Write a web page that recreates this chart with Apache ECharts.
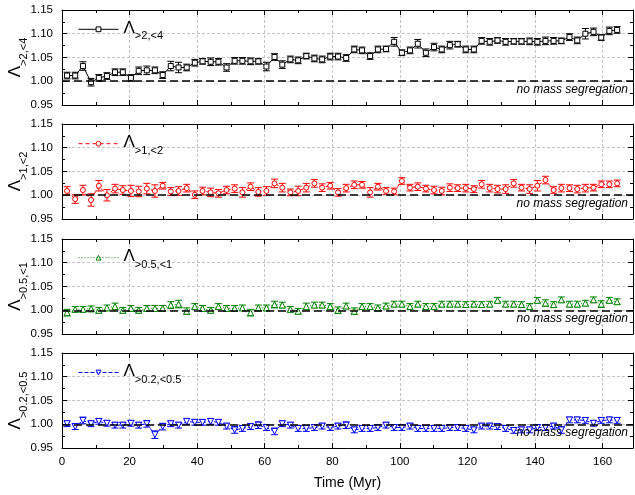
<!DOCTYPE html>
<html><head><meta charset="utf-8">
<script src="https://cdn.jsdelivr.net/npm/echarts@6/dist/echarts.min.js"></script>
<style>html,body{margin:0;padding:0;background:#fff}#c{width:635px;height:495px}</style>
</head><body><div id="c"></div><script>
const FONT = "'Liberation Sans', Arial, sans-serif";

const times = [1.5,3.9,6.2,8.6,10.9,13.3,15.7,18.0,20.4,22.7,
25.1,27.5,29.8,32.2,34.5,36.9,39.3,41.6,44.0,46.3,
48.7,51.1,53.4,55.8,58.1,60.5,62.9,65.2,67.6,69.9,
72.3,74.7,77.0,79.4,81.7,84.1,86.5,88.8,91.2,93.5,
95.9,98.3,100.6,103.0,105.3,107.7,110.1,112.4,114.8,117.1,
119.5,121.9,124.2,126.6,128.9,131.3,133.7,136.0,138.4,140.7,
143.1,145.5,147.8,150.2,152.5,154.9,157.3,159.6,162.0,164.3];

const lam24 = [1.012,1.012,1.032,0.998,1.007,1.011,1.019,1.019,1.007,1.022,
1.023,1.023,1.013,1.032,1.029,1.029,1.039,1.042,1.041,1.041,
1.029,1.043,1.043,1.042,1.042,1.031,1.051,1.035,1.046,1.044,
1.053,1.048,1.046,1.052,1.052,1.049,1.067,1.065,1.053,1.067,
1.068,1.083,1.060,1.065,1.079,1.060,1.072,1.067,1.076,1.078,
1.067,1.067,1.085,1.083,1.086,1.083,1.084,1.084,1.084,1.083,
1.085,1.085,1.085,1.093,1.086,1.100,1.104,1.092,1.106,1.108];
const err24 = [0.007,0.007,0.009,0.008,0.007,0.007,0.007,0.007,0.007,0.008,
0.009,0.007,0.007,0.010,0.011,0.007,0.007,0.006,0.008,0.007,
0.008,0.007,0.007,0.007,0.006,0.009,0.007,0.008,0.007,0.007,
0.006,0.007,0.007,0.007,0.007,0.007,0.007,0.007,0.007,0.007,
0.006,0.009,0.006,0.007,0.009,0.008,0.008,0.007,0.008,0.006,
0.007,0.007,0.007,0.007,0.006,0.007,0.006,0.006,0.007,0.007,
0.008,0.007,0.006,0.007,0.007,0.011,0.008,0.006,0.008,0.007];

const lam12 = [1.009,0.992,1.011,0.990,1.020,1.000,1.014,1.011,1.009,1.008,
1.014,1.009,1.020,1.008,1.009,1.015,1.001,1.009,1.006,1.004,
1.011,1.014,1.006,1.018,1.007,1.009,1.025,1.016,1.006,1.009,
1.016,1.025,1.016,1.020,1.006,1.015,1.022,1.022,1.006,1.018,
1.009,1.008,1.030,1.016,1.018,1.014,1.011,1.009,1.016,1.015,
1.015,1.013,1.023,1.015,1.013,1.013,1.025,1.016,1.013,1.020,
1.032,1.011,1.015,1.015,1.013,1.015,1.016,1.023,1.023,1.025];
const err12 = [0.009,0.009,0.010,0.013,0.011,0.012,0.009,0.009,0.012,0.011,
0.011,0.013,0.007,0.008,0.009,0.008,0.008,0.008,0.009,0.008,
0.008,0.008,0.010,0.008,0.009,0.009,0.009,0.009,0.007,0.010,
0.009,0.008,0.008,0.007,0.008,0.008,0.008,0.007,0.010,0.007,
0.007,0.007,0.007,0.007,0.008,0.007,0.008,0.008,0.008,0.007,
0.008,0.007,0.008,0.008,0.008,0.009,0.008,0.007,0.009,0.011,
0.008,0.007,0.008,0.007,0.008,0.008,0.007,0.007,0.007,0.007];

const lam051 = [0.995,1.002,1.002,1.003,1.000,1.005,1.008,1.000,1.004,1.000,
1.004,1.004,1.004,1.011,1.013,0.998,1.008,1.004,1.000,1.008,
1.004,1.004,1.005,0.995,1.005,1.005,1.012,1.011,1.002,0.998,
1.008,1.011,1.011,1.008,1.000,1.009,0.998,1.008,1.008,1.005,
1.009,1.013,1.013,1.008,1.013,1.008,1.008,1.013,1.013,1.013,
1.012,1.013,1.012,1.013,1.021,1.013,1.013,1.012,1.008,1.021,
1.015,1.012,1.022,1.013,1.013,1.015,1.022,1.013,1.021,1.018];
const err051 = [0.007,0.006,0.006,0.006,0.006,0.006,0.007,0.006,0.006,0.006,
0.006,0.006,0.006,0.007,0.008,0.007,0.006,0.006,0.006,0.006,
0.006,0.006,0.006,0.007,0.006,0.006,0.007,0.006,0.006,0.006,
0.007,0.006,0.006,0.006,0.007,0.006,0.007,0.006,0.006,0.006,
0.006,0.006,0.006,0.006,0.006,0.006,0.006,0.006,0.006,0.006,
0.006,0.006,0.006,0.006,0.006,0.006,0.006,0.006,0.006,0.006,
0.007,0.006,0.006,0.006,0.006,0.006,0.006,0.007,0.006,0.006];

const lam0205 = [1.001,0.995,1.008,1.001,1.006,1.002,0.998,0.998,1.002,0.998,
1.001,0.978,0.995,1.001,0.998,1.006,1.004,1.004,1.006,1.004,
0.996,0.988,0.991,0.995,0.998,0.993,0.985,1.001,0.998,0.991,
0.991,0.993,0.996,0.993,0.996,0.998,0.988,0.991,0.991,0.993,
0.998,0.993,0.993,0.996,0.991,0.991,0.991,0.991,0.993,0.993,
0.991,0.988,0.996,0.996,0.995,0.991,0.987,0.988,0.988,0.993,
0.993,0.996,0.988,1.009,1.009,1.008,1.002,1.008,1.009,1.008];
const err0205 = [0.006,0.006,0.007,0.006,0.006,0.006,0.006,0.006,0.006,0.006,
0.007,0.008,0.007,0.006,0.006,0.006,0.006,0.006,0.006,0.006,
0.006,0.007,0.006,0.006,0.007,0.006,0.007,0.006,0.006,0.006,
0.006,0.006,0.006,0.006,0.006,0.007,0.006,0.006,0.006,0.006,
0.006,0.006,0.006,0.006,0.006,0.006,0.006,0.006,0.006,0.006,
0.006,0.006,0.006,0.006,0.006,0.006,0.006,0.006,0.006,0.006,
0.006,0.006,0.007,0.006,0.006,0.006,0.006,0.006,0.006,0.006];

const subLabels = ['>2,<4', '>1,<2', '>0.5,<1', '>0.2,<0.5'];
const refLabel = 'no mass segregation';
const xTitle = 'Time (Myr)';

const panels = [
  {name:'L24', sub:subLabels[0], vals:lam24, errs:err24, color:'#000000', symbol:'rect', rot:0, size:5, dash:'solid'},
  {name:'L12', sub:subLabels[1], vals:lam12, errs:err12, color:'#ff0000', symbol:'circle', rot:0, size:5, dash:[4,3]},
  {name:'L051', sub:subLabels[2], vals:lam051, errs:err051, color:'#008000', symbol:'triangle', rot:0, size:6, dash:[1,2]},
  {name:'L0205', sub:subLabels[3], vals:lam0205, errs:err0205, color:'#0000ff', symbol:'triangle', rot:180, size:6, dash:[4,2]}
];

const tops = [10, 124, 239, 353];
const H = 95;
const legendTops = [19.8, 134.2, 248.2, 363];
const XMAX = 169;

const rich = {
  a:{fontSize:17, fontFamily:FONT, color:'#000', padding:[3,0,0,0], verticalAlign:'top'},
  b:{fontSize:11, fontFamily:FONT, color:'#000', padding:[14,0,0,0], verticalAlign:'top'}
};

const grid = [], xAxis = [], yAxis = [], series = [], legend = [], graphic = [];
const grayGrid = {show:true, lineStyle:{color:'#c4c4c4', width:1, type:[3,2]}};

panels.forEach((p, i) => {
  grid.push({left:62, right:2, top:tops[i], height:H});
  const baseX = {gridIndex:i, type:'value', min:0, max:XMAX};
  xAxis.push(Object.assign({}, baseX, {interval:20, position:'bottom',
    axisLine:{show:true, onZero:false, lineStyle:{color:'#000', width:1}},
    axisTick:{show:true, inside:true, length:5, lineStyle:{color:'#000'}},
    axisLabel:{show:i===3, showMaxLabel:false, fontSize:11.5, fontFamily:FONT, color:'#000', margin:8},
    splitLine:grayGrid}));
  xAxis.push(Object.assign({}, baseX, {interval:10, position:'bottom',
    axisLine:{show:false, onZero:false}, axisTick:{show:true, inside:true, length:3, lineStyle:{color:'#000'}},
    axisLabel:{show:false}, splitLine:{show:false}}));
  xAxis.push(Object.assign({}, baseX, {interval:20, position:'top',
    axisLine:{show:true, onZero:false, lineStyle:{color:'#000', width:1}},
    axisTick:{show:true, inside:true, length:5, lineStyle:{color:'#000'}},
    axisLabel:{show:false}, splitLine:{show:false}}));
  xAxis.push(Object.assign({}, baseX, {interval:10, position:'top',
    axisLine:{show:false, onZero:false}, axisTick:{show:true, inside:true, length:3, lineStyle:{color:'#000'}},
    axisLabel:{show:false}, splitLine:{show:false}}));

  const baseY = {gridIndex:i, type:'value', min:0.95, max:1.15, interval:0.05,
    axisLine:{show:true, onZero:false, lineStyle:{color:'#000', width:1}},
    axisTick:{show:true, inside:true, length:5, lineStyle:{color:'#000'}},
    minorTick:{show:true, splitNumber:2, length:3, lineStyle:{color:'#000'}}};
  yAxis.push(Object.assign({}, baseY, {position:'left',
    axisLabel:{formatter:v => v.toFixed(2), fontSize:11.5, fontFamily:FONT, color:'#000', margin:9},
    splitLine:grayGrid}));
  yAxis.push(Object.assign({}, baseY, {position:'right', axisLabel:{show:false}, splitLine:{show:false}}));

  series.push({
    type:'custom', name:p.name + '_err', xAxisIndex:4*i, yAxisIndex:2*i, z:2, silent:true,
    data: times.map((t,k) => [t, p.vals[k], p.errs[k]]),
    encode:{x:0, y:1},
    renderItem:(params, api) => {
      const x = api.value(0), y = api.value(1), e = api.value(2);
      const hi = api.coord([x, y + e]), lo = api.coord([x, y - e]);
      const w = 3.5;
      const st = {stroke:p.color, lineWidth:1, fill:null};
      return {type:'group', children:[
        {type:'line', shape:{x1:hi[0], y1:hi[1], x2:lo[0], y2:lo[1]}, style:st},
        {type:'line', shape:{x1:hi[0]-w, y1:hi[1], x2:hi[0]+w, y2:hi[1]}, style:st},
        {type:'line', shape:{x1:lo[0]-w, y1:lo[1], x2:lo[0]+w, y2:lo[1]}, style:st}
      ]};
    }
  });

  series.push({
    type:'line', name:p.name, xAxisIndex:4*i, yAxisIndex:2*i, z:3,
    data: times.map((t,k) => [t, p.vals[k]]),
    symbol:p.symbol, symbolSize:p.size, symbolRotate:p.rot, showSymbol:true, showAllSymbol:true,
    lineStyle:{color:p.color, width:1, type:p.dash},
    itemStyle:{color:'#ffffff', borderColor:p.color, borderWidth:1},
    emphasis:{disabled:true},
    markLine:{silent:true, symbol:['none','none'], animation:false,
      data:[{yAxis:1}],
      lineStyle:{color:'#000', type:[8,4], width:1.5},
      label:{show:true, position:'insideEndBottom', formatter:refLabel, fontStyle:'italic',
        fontSize:12, fontFamily:FONT, color:'#000', distance:[5,2]},
      emphasis:{disabled:true}}
  });

  legend.push({data:[p.name], left:78, top:legendTops[i], padding:0, itemWidth:40, itemHeight:6,
    selectedMode:false, formatter:() => '{a|Λ}{b|' + p.sub + '}',
    lineStyle:{width:1}, itemStyle:{borderWidth:1},
    textStyle:{color:'#000', fontFamily:FONT, rich:rich}});

  graphic.push({type:'text', x:16.7, y:tops[i] + H/2, rotation:Math.PI/2,
    style:{text:'{a|Λ}{b|' + p.sub + '}', align:'center', verticalAlign:'middle', rich:rich, fill:'#000'}});
});

graphic.push({type:'text', x:347.5, y:483.3,
  style:{text:xTitle, align:'center', verticalAlign:'middle', fontSize:14, fontFamily:FONT, fill:'#000'}});

const chart = echarts.init(document.getElementById('c'), null, {renderer:'canvas'});
chart.setOption({animation:false, backgroundColor:'#fff', grid, xAxis, yAxis, series, legend, graphic});
</script></body></html>
